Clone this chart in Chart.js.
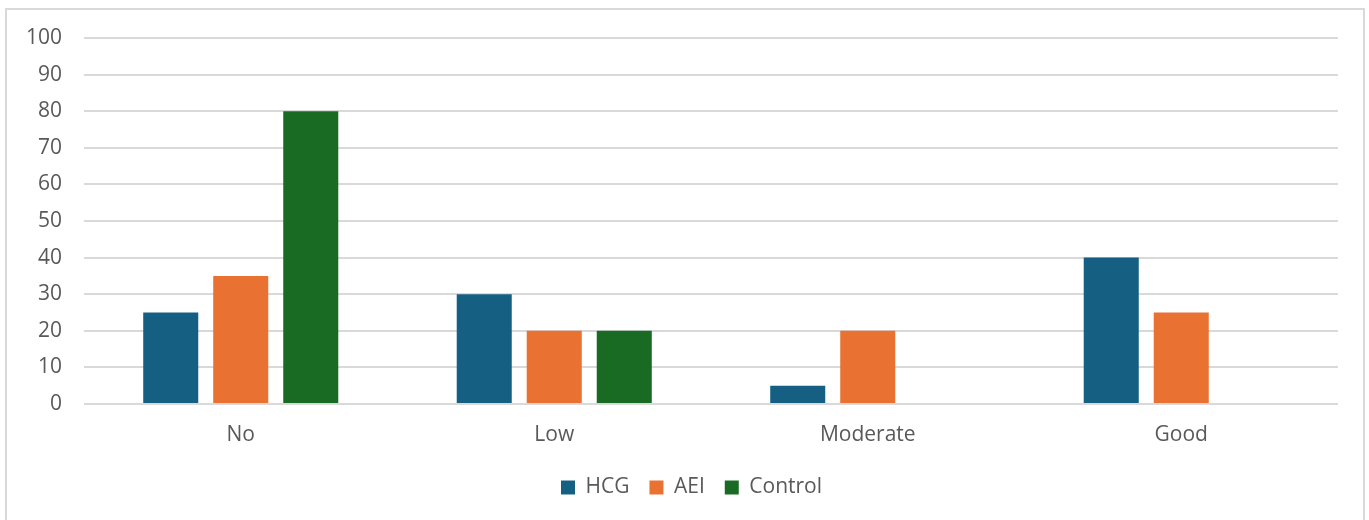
<!DOCTYPE html>
<html>
<head>
<meta charset="utf-8">
<script src="https://cdn.jsdelivr.net/npm/chart.js@4"></script>
<style>
  html, body { margin: 0; padding: 0; background: #fff; }
  #wrap { position: relative; width: 1369px; height: 520px; overflow: hidden; }
  #frame { position: absolute; left: 5px; top: 8px; width: 1360px; height: 530px; border: 2px solid #d9d9d9; box-sizing: border-box; }
  canvas { position: absolute; left: 0; top: 0; }
</style>
</head>
<body>
<div id="wrap">
  <div id="frame"></div>
  <canvas id="chart" width="1369" height="520"></canvas>
</div>
<script>
// values
const categories = ['No', 'Low', 'Moderate', 'Good'];
const hcg = [25, 30, 5, 40];
const aei = [35, 20, 20, 25];
const control = [80, 20, 0, 0];
const yTicks = [0, 10, 20, 30, 40, 50, 60, 70, 80, 90, 100];

const textColor = '#595959';
const fontSpec = { family: '"Open Sans", sans-serif', size: 21 };

const ctx = document.getElementById('chart').getContext('2d');
new Chart(ctx, {
    type: 'bar',
    data: {
        labels: categories,
        datasets: [
            { label: 'HCG', data: hcg, backgroundColor: '#156082' },
            { label: 'AEI', data: aei, backgroundColor: '#e97132' },
            { label: 'Control', data: control, backgroundColor: '#196b24' }
        ]
    },
    options: {
        responsive: false,
        animation: false,
        categoryPercentage: 0.67,
        barPercentage: 0.786,
        layout: { padding: { top: 38, right: 0, left: 14, bottom: 12 } },
        plugins: {
            tooltip: { enabled: false },
            legend: {
                position: 'bottom',
                labels: {
                    color: textColor,
                    font: fontSpec,
                    boxWidth: 14,
                    boxHeight: 14,
                    padding: 20,
                    useBorderRadius: false
                }
            }
        },
        scales: {
            x: {
                grid: { display: false, drawTicks: false },
                border: { display: false },
                ticks: { color: textColor, font: fontSpec, padding: 18 },
                afterFit: scale => { scale.height = 53; }
            },
            y: {
                min: 0,
                max: 100,
                afterBuildTicks: scale => { scale.ticks = yTicks.map(v => ({ value: v })); },
                grid: { color: '#d9d9d9', lineWidth: 2, drawTicks: false },
                border: { display: false },
                ticks: { color: textColor, font: fontSpec, padding: 22 },
                afterFit: scale => { scale.width = 70; }
            },
            // empty spacer on the right so the plot ends where the reference does
            yRight: {
                position: 'right',
                min: 0,
                max: 100,
                grid: { display: false, drawTicks: false },
                border: { display: false },
                ticks: { display: false },
                afterFit: scale => { scale.width = 31; }
            }
        }
    }
});
</script>
</body>
</html>
